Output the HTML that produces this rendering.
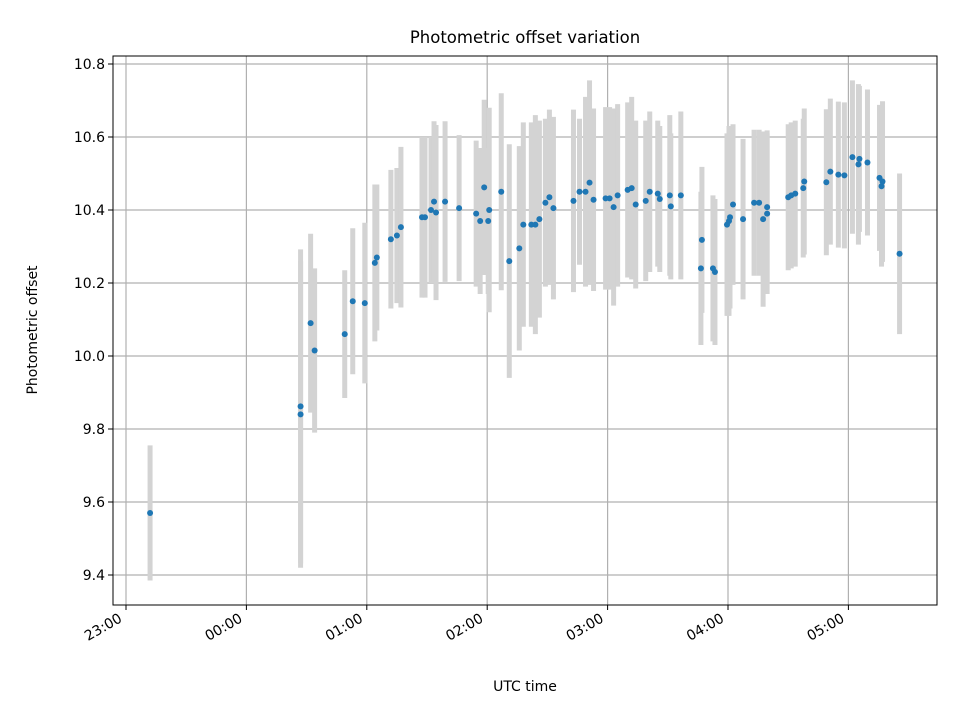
<!DOCTYPE html>
<html><head><meta charset="utf-8"><style>
body{margin:0;background:#fff}
svg text{font-family:"DejaVu Sans","Liberation Sans",sans-serif;fill:#000}
</style></head><body>
<svg id="chart" width="960" height="720" xmlns="http://www.w3.org/2000/svg">
<rect width="960" height="720" fill="#fff"/>
<text x="525" y="43" font-size="16.5" text-anchor="middle">Photometric offset variation</text>
<text x="525" y="691" font-size="14" text-anchor="middle">UTC time</text>
<text transform="translate(37,330) rotate(-90)" font-size="14" text-anchor="middle">Photometric offset</text>
<g id="grid"></g><g id="bars"></g><g id="pts"></g><g id="axes"></g>
</svg>
<script>
// minutes after 23:00
const times=[12,87,87,92,94,109,113,119,124,125,132,135,137,147.5,149,152,153.5,154.5,159,166,174.5,176.5,178.5,180.5,181,187,191,196,198,202,204,206,209,211,213,223,226,229,231,233,239,241,243,245,250,252,254,259,261,265,266,271,271.5,276.5,286.5,287,292.5,293.5,299.5,300.5,301,302.5,307.5,313,315.5,317.5,319.5,319.5,330,331.5,333.5,337.5,338,349,351,355,358,362,365,365.5,369.5,375.5,376.5,377,385.5];
const values=[9.57,9.862,9.84,10.09,10.015,10.06,10.15,10.145,10.255,10.27,10.32,10.33,10.353,10.38,10.38,10.40,10.423,10.393,10.423,10.405,10.39,10.37,10.462,10.37,10.40,10.45,10.26,10.295,10.36,10.36,10.36,10.375,10.42,10.435,10.405,10.425,10.45,10.45,10.475,10.428,10.432,10.432,10.408,10.44,10.455,10.46,10.415,10.425,10.45,10.445,10.43,10.44,10.41,10.44,10.24,10.318,10.24,10.23,10.36,10.37,10.38,10.415,10.375,10.42,10.42,10.375,10.39,10.408,10.435,10.44,10.445,10.46,10.478,10.476,10.505,10.497,10.495,10.545,10.525,10.54,10.53,10.488,10.465,10.478,10.28];
const errors=[0.185,0.43,0.42,0.245,0.225,0.175,0.2,0.22,0.215,0.2,0.19,0.185,0.22,0.22,0.22,0.2,0.22,0.24,0.22,0.2,0.2,0.2,0.24,0.2,0.28,0.27,0.32,0.28,0.28,0.28,0.3,0.27,0.23,0.24,0.25,0.25,0.2,0.26,0.28,0.25,0.25,0.25,0.27,0.25,0.24,0.25,0.23,0.22,0.22,0.2,0.2,0.22,0.2,0.23,0.21,0.2,0.2,0.2,0.25,0.26,0.25,0.22,0.22,0.2,0.2,0.24,0.22,0.21,0.2,0.2,0.2,0.19,0.2,0.2,0.2,0.2,0.2,0.21,0.22,0.2,0.2,0.2,0.22,0.22,0.22];
const yTicks=[9.4,9.6,9.8,10.0,10.2,10.4,10.6,10.8];
const xTicks=[0,60,120,180,240,300,360];
const xTickLabels=["23:00","00:00","01:00","02:00","03:00","04:00","05:00"];
const L=113,R=937,T=56,B=605;
const xs=m=>126+m*120.4/60;
const ys=v=>64+(10.8-v)*365;
const NS="http://www.w3.org/2000/svg";
function mk(tag,attrs,parent){const e=document.createElementNS(NS,tag);for(const k in attrs)e.setAttribute(k,attrs[k]);document.getElementById(parent).appendChild(e);return e;}
yTicks.forEach(v=>{
 const y=ys(v);
 const g=mk('line',{x1:L,x2:R,y1:y,y2:y,stroke:'#b0b0b0','stroke-width':1.2},'grid');
 
 mk('line',{x1:L-5,x2:L,y1:y,y2:y,stroke:'#000','stroke-width':1},'axes');
 const t=mk('text',{x:L-8,y:y+5,'font-size':14,'text-anchor':'end'},'axes');t.textContent=v.toFixed(1);
 
});
xTicks.forEach((m,i)=>{
 const x=xs(m);
 const g=mk('line',{x1:x,x2:x,y1:T,y2:B,stroke:'#b0b0b0','stroke-width':1.2},'grid');
 
 mk('line',{x1:x,x2:x,y1:B,y2:B+5,stroke:'#000','stroke-width':1},'axes');
 const t=mk('text',{transform:`translate(${x-3},${B+16}) rotate(-30)`,'font-size':14,'text-anchor':'end'},'axes');t.textContent=xTickLabels[i];
 
});
times.forEach((m,i)=>{
 const x=xs(m);
 const b=mk('line',{x1:x,x2:x,y1:ys(values[i]+errors[i]),y2:ys(values[i]-errors[i]),stroke:'#d3d3d3','stroke-width':5},'bars');
 
 const c=mk('circle',{cx:x,cy:ys(values[i]),r:3,fill:'#1f77b4'},'pts');
 
});
const f=mk('rect',{x:L,y:T,width:R-L,height:B-T,fill:'none',stroke:'#000','stroke-width':1},'axes');

</script>
</body></html>
